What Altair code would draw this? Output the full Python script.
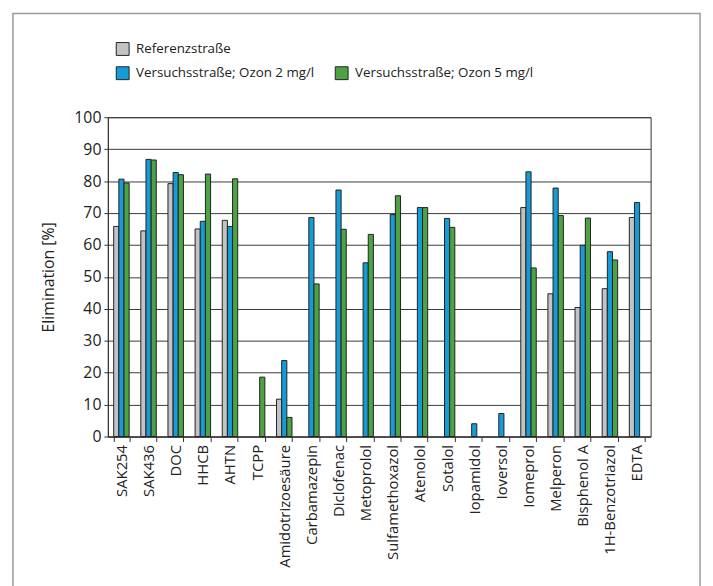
import altair as alt
import pandas as pd

categories = ["SAK254", "SAK436", "DOC", "HHCB", "AHTN", "TCPP", "Amidotrizoesäure",
              "Carbamazepin", "Diclofenac", "Metoprolol", "Sulfamethoxazol", "Atenolol",
              "Sotalol", "Iopamidol", "Ioversol", "Iomeprol", "Melperon", "Bisphenol A",
              "1H-Benzotriazol", "EDTA"]
referenz = [65.8, 64.4, 79.2, 65.0, 67.7, None, 11.7, None, None, None, None, None,
            None, None, None, 71.7, 44.7, 40.4, 46.3, 68.6]
ozon2 = [80.6, 86.8, 82.7, 67.4, 65.8, None, 23.8, 68.6, 77.2, 54.4, 69.5, 71.7,
         68.3, 4.0, 7.2, 82.9, 77.8, 59.9, 57.9, 73.3]
ozon5 = [79.4, 86.6, 82.0, 82.2, 80.7, 18.6, 6.0, 47.8, 64.9, 63.3, 75.4, 71.7,
         65.5, None, None, 52.8, 69.2, 68.4, 55.3, None]
series_names = ["Referenzstraße", "Versuchsstraße; Ozon 2 mg/l", "Versuchsstraße; Ozon 5 mg/l"]
series_colors = ["#C3C3C6", "#179BD7", "#4DA243"]
y_ticks = list(range(0, 101, 10))

rows = []
for s, vals in zip(series_names, [referenz, ozon2, ozon5]):
    for c, v in zip(categories, vals):
        if v is not None:
            rows.append({"Stoff": c, "series": s, "value": v})
df = pd.DataFrame(rows)

FONT = "Open Sans"
INK = "#222222"

bars = alt.Chart(df).mark_bar(strokeWidth=1, stroke=INK).encode(
    x=alt.X("Stoff:N", sort=categories,
            scale=alt.Scale(paddingInner=0.43, paddingOuter=0.215),
            axis=alt.Axis(title=None, labelAngle=-90, labelFontSize=15, labelFont=FONT,
                          labelColor=INK, tickBand="extent", tickSize=5,
                          tickColor="#333333", domainColor="#333333", labelPadding=3)),
    xOffset=alt.XOffset("series:N", sort=series_names,
                        scale=alt.Scale(domain=series_names, paddingInner=0, paddingOuter=0)),
    y=alt.Y("value:Q", scale=alt.Scale(domain=[0, 100], nice=False),
            axis=alt.Axis(title="Elimination [%]", values=y_ticks, titleFontSize=16,
                          titleFont=FONT, titleFontWeight="normal", titleColor=INK,
                          labelFontSize=16, labelFont=FONT, labelColor=INK,
                          tickSize=4, tickColor="#333333", domainColor="#333333",
                          gridColor="#3a3a3a", gridWidth=1, titlePadding=18,
                          labelPadding=3)),
    fill=alt.Fill("series:N", scale=alt.Scale(domain=series_names, range=series_colors),
                  legend=None),
)

base = alt.Chart(pd.DataFrame({"k": [0]}))

frame = base.mark_rect(fill="transparent", stroke="#9a9a9a", strokeWidth=1.5).encode(
    x=alt.value(-96), x2=alt.value(599), y=alt.value(-105), y2=alt.value(490))

# legend laid out like the original: one entry in the first row, two in the second
legend_slots = [(8.5, -69), (8.5, -44.5), (230, -44.5)]
legend_layers = []
for name, color, (lx, ly) in zip(series_names, series_colors, legend_slots):
    legend_layers.append(base.mark_rect(fill=color, stroke=INK, strokeWidth=1).encode(
        x=alt.value(lx), x2=alt.value(lx + 13), y=alt.value(ly - 6.5), y2=alt.value(ly + 6.5)))
    legend_layers.append(base.mark_text(align="left", baseline="middle", font=FONT,
                                        fontSize=13.5, color=INK).encode(
        x=alt.value(lx + 20), y=alt.value(ly), text=alt.value(name)))

chart = alt.layer(frame, bars, *legend_layers).properties(
    width=549, height=323, padding={"left": 4, "top": 1, "right": 4, "bottom": 4},
    background="white"
).configure_view(stroke="#333333").configure_axisY(grid=True).configure_axisX(grid=False)

chart.save("out.html", embed_options={"renderer": "svg", "actions": False})
